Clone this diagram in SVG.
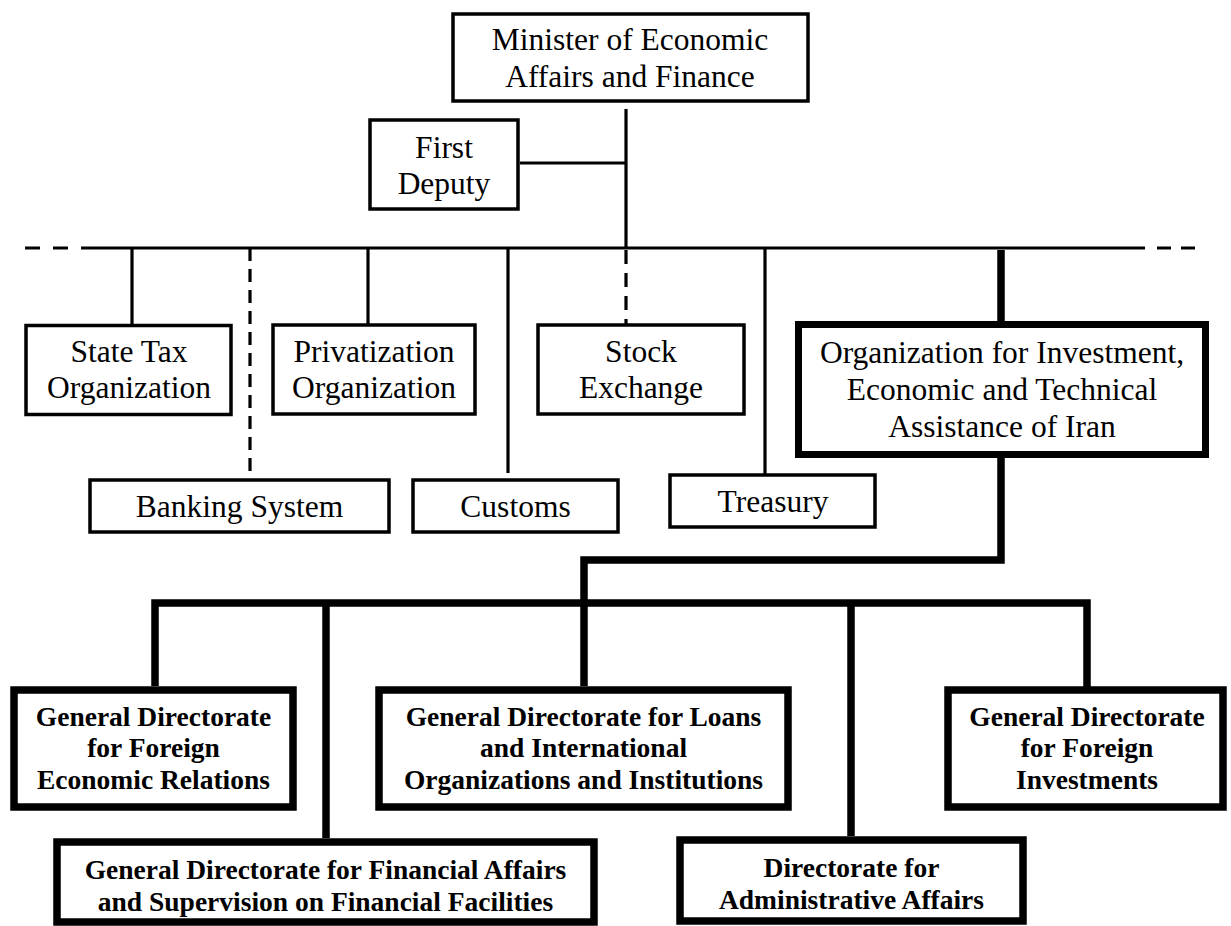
<svg xmlns="http://www.w3.org/2000/svg" width="1231" height="926" viewBox="0 0 1231 926">
<style>
.bg{fill:#fff}
.n{fill:#fff;stroke:#000;stroke-width:3.5}
.k{fill:#fff;stroke:#000;stroke-width:7}
.kk{fill:#fff;stroke:#000;stroke-width:7.5}
.t{font-family:"Liberation Serif","Times New Roman",serif;font-size:31.5px;fill:#000;text-anchor:middle}
.b{font-family:"Liberation Serif","Times New Roman",serif;font-size:27.5px;font-weight:bold;fill:#000;text-anchor:middle}
.c{fill:none;stroke:#000;stroke-width:3.2}
.cd{fill:none;stroke:#000;stroke-width:3.2;stroke-dasharray:14 9}
.ck{fill:none;stroke:#000;stroke-width:7.5;stroke-linejoin:miter;stroke-linecap:square}
</style>
<rect class="bg" x="0" y="0" width="1231" height="926"/>
<g id="connectors">
<line class="c" x1="626" y1="109" x2="626" y2="248"/>
<line class="c" x1="520" y1="163" x2="626" y2="163"/>
<line class="cd" x1="25" y1="248" x2="95" y2="248" style="stroke-dasharray:15 13"/>
<line class="c" x1="95" y1="248" x2="1145" y2="248"/>
<line class="cd" x1="1157" y1="248" x2="1195" y2="248" style="stroke-dasharray:14 10"/>
<line class="c" x1="132" y1="248" x2="132" y2="325"/>
<line class="cd" x1="250" y1="248" x2="250" y2="473" style="stroke-dasharray:13 8"/>
<line class="c" x1="368" y1="248" x2="368" y2="324"/>
<line class="c" x1="508" y1="248" x2="508" y2="473"/>
<line class="cd" x1="626" y1="250" x2="626" y2="324"/>
<line class="c" x1="765" y1="248" x2="765" y2="474"/>
<line class="ck" x1="1001" y1="250" x2="1001" y2="321" style="stroke-linecap:butt"/>
<path class="ck" d="M1001,458 V560 H584 V603"/>
<path class="ck" d="M155,686 V603 H1087 V687" style="stroke-linecap:butt"/>
<line class="ck" x1="326" y1="603" x2="326" y2="838" style="stroke-linecap:butt"/>
<line class="ck" x1="584" y1="603" x2="584" y2="686" style="stroke-linecap:butt"/>
<line class="ck" x1="851" y1="603" x2="851" y2="836" style="stroke-linecap:butt"/>
</g>
<g id="minister">
<rect class="n" x="453" y="14" width="355" height="87"/>
<text class="t" x="630" y="50">Minister of Economic</text>
<text class="t" x="630" y="87">Affairs and Finance</text>
</g>
<g id="first-deputy">
<rect class="n" x="370" y="120" width="148" height="89"/>
<text class="t" x="444" y="158">First</text>
<text class="t" x="444" y="194">Deputy</text>
</g>
<g id="state-tax">
<rect class="n" x="26" y="325.5" width="205" height="89"/>
<text class="t" x="129" y="362">State Tax</text>
<text class="t" x="129" y="398">Organization</text>
</g>
<g id="privatization">
<rect class="n" x="273" y="325" width="202" height="89"/>
<text class="t" x="374" y="362">Privatization</text>
<text class="t" x="374" y="398">Organization</text>
</g>
<g id="stock-exchange">
<rect class="n" x="538" y="325" width="206" height="89"/>
<text class="t" x="641" y="362">Stock</text>
<text class="t" x="641" y="398">Exchange</text>
</g>
<g id="banking">
<rect class="n" x="90" y="480" width="299" height="52"/>
<text class="t" x="239.5" y="517">Banking System</text>
</g>
<g id="customs">
<rect class="n" x="413" y="480" width="205" height="52"/>
<text class="t" x="515.5" y="517">Customs</text>
</g>
<g id="treasury">
<rect class="n" x="670" y="475" width="205" height="52"/>
<text class="t" x="773" y="512">Treasury</text>
</g>
<g id="org-investment">
<rect class="k" x="798.5" y="324.5" width="407" height="130"/>
<text class="t" x="1002" y="363">Organization for Investment,</text>
<text class="t" x="1002" y="400">Economic and Technical</text>
<text class="t" x="1002" y="437">Assistance of Iran</text>
</g>
<g id="foreign-economic">
<rect class="kk" x="14" y="690" width="279" height="117"/>
<text class="b" x="153.5" y="726">General Directorate</text>
<text class="b" x="153.5" y="757">for Foreign</text>
<text class="b" x="153.5" y="789">Economic Relations</text>
</g>
<g id="loans">
<rect class="kk" x="379" y="690" width="409" height="117"/>
<text class="b" x="583.5" y="726">General Directorate for Loans</text>
<text class="b" x="583.5" y="757">and International</text>
<text class="b" x="583.5" y="789">Organizations and Institutions</text>
</g>
<g id="foreign-investments">
<rect class="kk" x="948" y="690" width="275" height="117"/>
<text class="b" x="1087" y="726">General Directorate</text>
<text class="b" x="1087" y="757">for Foreign</text>
<text class="b" x="1087" y="789">Investments</text>
</g>
<g id="financial-affairs">
<rect class="kk" x="57" y="842" width="537" height="80"/>
<text class="b" x="325.5" y="879">General Directorate for Financial Affairs</text>
<text class="b" x="325.5" y="911">and Supervision on Financial Facilities</text>
</g>
<g id="administrative">
<rect class="kk" x="680" y="840" width="343" height="81"/>
<text class="b" x="851.5" y="877">Directorate for</text>
<text class="b" x="851.5" y="909">Administrative Affairs</text>
</g>
</svg>
